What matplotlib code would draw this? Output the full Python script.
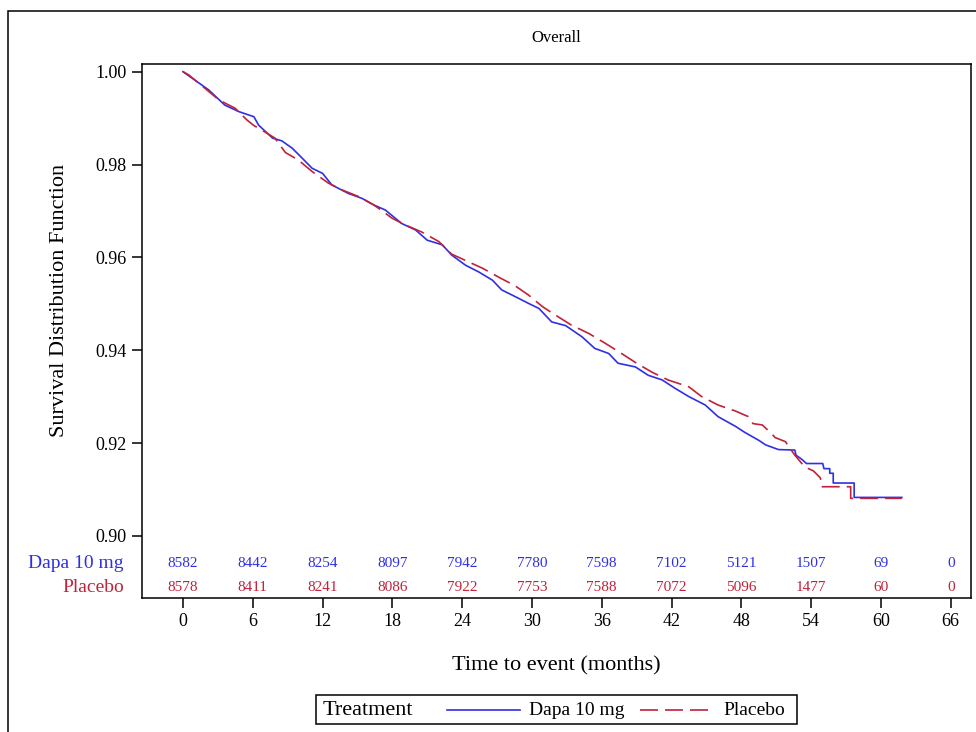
import matplotlib
matplotlib.use("Agg")
import matplotlib.pyplot as plt
from matplotlib.patches import Rectangle
from matplotlib.lines import Line2D
import matplotlib.transforms as mtransforms

plt.rcParams['font.family'] = ['Liberation Serif', 'DejaVu Serif']

# Kaplan-Meier curves (months, survival); corners kept where steps are large
dapa_t = [0, 2.2, 3.6, 4.8, 6.1, 6.5, 7.7, 8.5, 9.4, 10.2, 11.1, 12.0, 12.8, 14.2, 15.4,
          16.4, 17.4, 18.8, 20.0, 21.0, 22.3, 23.1, 24.3, 25.4, 26.6, 27.4, 28.6, 29.7, 30.6,
          31.7, 32.9, 34.3, 35.4, 36.6, 37.4, 38.9, 40.0, 41.2, 42.3, 43.5, 44.9, 46.0, 47.5,
          48.3, 49.5, 50.1, 51.2, 52.6, 52.7, 53.2, 53.6, 55.0, 55.1, 55.6, 55.6, 55.9, 55.9,
          57.7, 57.7, 61.8]
dapa_s = [1.0, 0.9961, 0.9928, 0.9914, 0.9903, 0.9885, 0.9857, 0.9851, 0.9835, 0.9815, 0.9792,
          0.9781, 0.9756, 0.9738, 0.9727, 0.9713, 0.9702, 0.9673, 0.9659, 0.9637, 0.9627, 0.9605,
          0.9583, 0.9569, 0.9551, 0.9530, 0.9515, 0.9501, 0.9490, 0.9461, 0.9453, 0.9429, 0.9404,
          0.9393, 0.9372, 0.9364, 0.9346, 0.9336, 0.9318, 0.9300, 0.9282, 0.9257, 0.9236, 0.9223,
          0.9206, 0.9196, 0.9186, 0.9185, 0.9174, 0.9165, 0.9156, 0.9156, 0.9145, 0.9145, 0.9135,
          0.9135, 0.9114, 0.9114, 0.9083, 0.9083]

placebo_t = [0, 0.5, 1.9, 3.1, 4.5, 5.5, 6.1, 6.8, 7.9, 8.8, 9.9, 11.1, 12.5, 13.7, 15.1,
             16.4, 16.8, 18.0, 19.1, 20.5, 22.0, 23.1, 24.5, 25.8, 27.1, 28.6, 29.7, 30.9, 32.0,
             33.4, 34.9, 36.3, 37.7, 39.0, 40.3, 41.7, 43.5, 44.6, 46.0, 47.5, 48.6, 49.0, 49.8,
             50.5, 50.9, 51.8, 52.2, 52.6, 53.2, 53.6, 54.2, 54.8, 54.9, 57.4, 57.4, 61.8]
placebo_s = [1.0, 0.9993, 0.9964, 0.9939, 0.9921, 0.9896, 0.9884, 0.9874, 0.9857, 0.9826, 0.9810,
             0.9785, 0.9760, 0.9745, 0.9731, 0.9713, 0.9706, 0.9684, 0.9670, 0.9655, 0.9634, 0.9607,
             0.9591, 0.9576, 0.9558, 0.9538, 0.9519, 0.9494, 0.9476, 0.9454, 0.9436, 0.9415, 0.9393,
             0.9372, 0.9353, 0.9336, 0.9321, 0.9300, 0.9282, 0.9269, 0.9257, 0.9242, 0.9239, 0.9223,
             0.9212, 0.9203, 0.9188, 0.9174, 0.9156, 0.9147, 0.9140, 0.9125, 0.9106, 0.9106, 0.9081,
             0.9081]

# numbers at risk
risk_times = [0, 6, 12, 18, 24, 30, 36, 42, 48, 54, 60, 66]
dapa_n = [8582, 8442, 8254, 8097, 7942, 7780, 7598, 7102, 5121, 1507, 69, 0]
placebo_n = [8578, 8411, 8241, 8086, 7922, 7753, 7588, 7072, 5096, 1477, 60, 0]

y_ticks = [0.90, 0.92, 0.94, 0.96, 0.98, 1.00]

BLUE = '#2f2fe6'
RED = '#c0223a'
DASH = (0, (10.8, 4.2))

fig = plt.figure(figsize=(9.76, 7.32), dpi=100)
ax = fig.add_axes([0.1455, 0.1831, 0.8491, 0.7295])

ax.plot(dapa_t, dapa_s, color=BLUE, lw=1.2)
ax.plot(placebo_t, placebo_s, color=RED, lw=1.2, linestyle=DASH)

ax.set_xlim(-3.52, 67.72)
ax.set_ylim(0.88664, 1.00166)
ax.set_xticks(risk_times)
ax.set_yticks(y_ticks)
ax.set_yticklabels([f'{v:.2f}' for v in y_ticks])
ax.tick_params(direction='out', length=7, width=1.1, labelsize=13, pad=4)
for sp in ax.spines.values():
    sp.set_linewidth(1.1)

# at-risk table inside the axes
trans = mtransforms.blended_transform_factory(ax.transData, ax.transAxes)
for t, n1, n2 in zip(risk_times, dapa_n, placebo_n):
    ax.text(t, 0.065, str(n1), transform=trans, ha='center', va='center', fontsize=11, color=BLUE)
    ax.text(t, 0.020, str(n2), transform=trans, ha='center', va='center', fontsize=11, color=RED)
ax.text(-0.022, 0.065, 'Dapa 10 mg', transform=ax.transAxes, ha='right', va='center',
        fontsize=14, color=BLUE)
ax.text(-0.022, 0.020, 'Placebo', transform=ax.transAxes, ha='right', va='center',
        fontsize=14, color=RED)

ax.set_xlabel('Time to event (months)', fontsize=16)
ax.xaxis.label.set_va('center')
ax.xaxis.set_label_coords(0.5, -0.127)
ax.set_ylabel('Survival Distribution Function', fontsize=16)
ax.yaxis.label.set_va('center')
ax.yaxis.set_label_coords(-0.099, 0.558)

ax.text(0.5, 1.049, 'Overall', transform=ax.transAxes, ha='center', va='center', fontsize=12)

# outer frame
fig.add_artist(Rectangle((8 / 976, -0.1), 1.2, 1.1 - 10.7 / 732, transform=fig.transFigure,
                         fill=False, lw=1.1, edgecolor='black'))

# legend
fig.add_artist(Rectangle((0.3238, 0.0109), 0.4928, 0.0396, transform=fig.transFigure,
                         fill=False, lw=1.1, edgecolor='black'))
ly = 0.0300
fig.text(0.331, ly, 'Treatment', fontsize=16, va='center', ha='left')
fig.add_artist(Line2D([0.458, 0.533], [ly, ly], transform=fig.transFigure, color=BLUE, lw=1.2))
fig.text(0.542, ly, 'Dapa 10 mg', fontsize=14, va='center', ha='left')
fig.add_artist(Line2D([0.656, 0.725], [ly, ly], transform=fig.transFigure, color=RED, lw=1.2,
                      linestyle=DASH))
fig.text(0.741, ly, 'Placebo', fontsize=14, va='center', ha='left')

fig.savefig('out.png', dpi=100)
